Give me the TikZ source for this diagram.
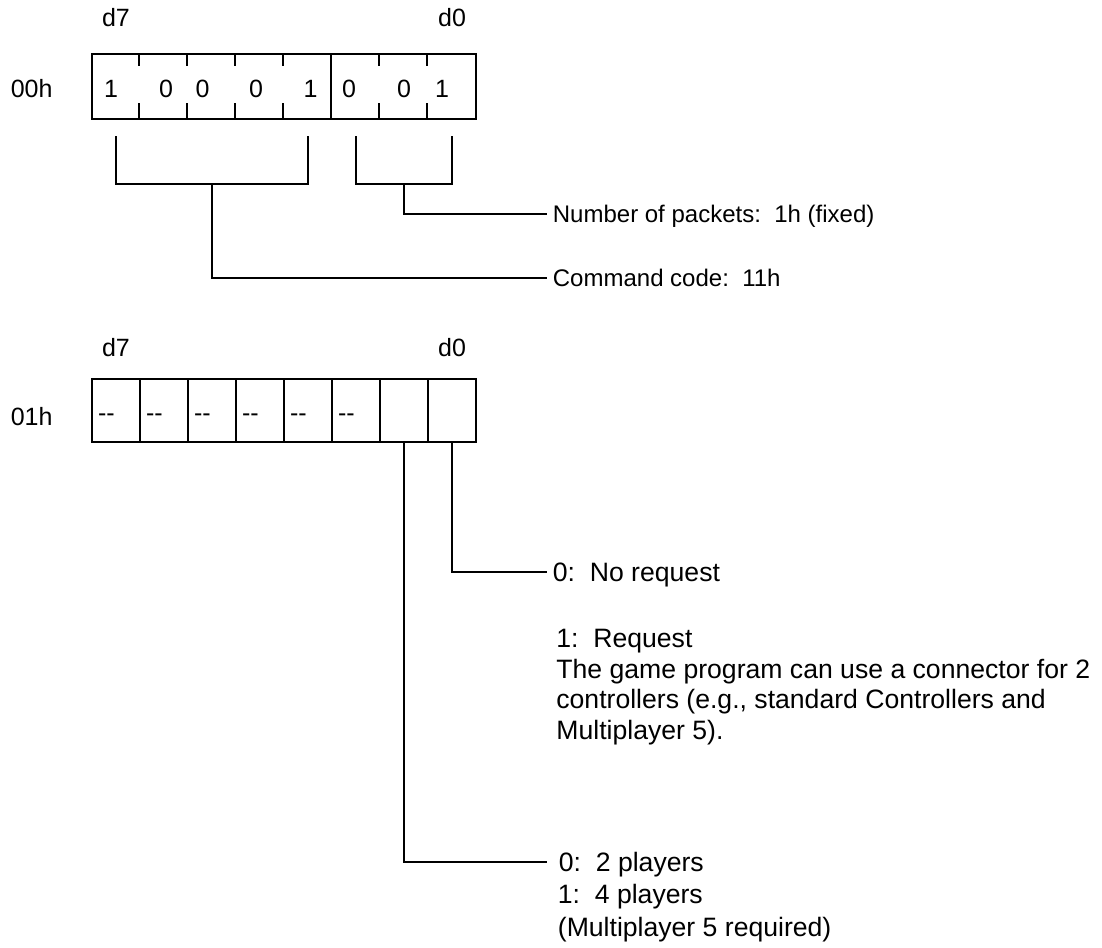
\documentclass[tikz,border=0pt]{standalone}
\usepackage{fontspec}
\setmainfont{Liberation Sans}
\usetikzlibrary{positioning}

\begin{document}
\begin{tikzpicture}[
  x=0.5pt, y=-0.5pt,
  wire/.style={line width=1pt},
  reg/.style={draw, line width=1pt, minimum width=192.15pt,
              minimum height=32.35pt, inner sep=0pt},
  cell/.style={draw, line width=1pt, minimum width=24pt,
               minimum height=31.2pt, inner sep=0pt},
  bit/.style={font=\fontsize{12.5pt}{15pt}\selectfont, inner sep=0pt,
              text height=8.95pt, text depth=0pt},
  lbl/.style={font=\fontsize{12pt}{15pt}\selectfont, inner ysep=0pt,
              text height=8.6pt, text depth=0pt, anchor=west, inner xsep=3pt},
  desc/.style={font=\fontsize{13.3pt}{15.35pt}\selectfont, inner ysep=0pt,
               text height=9.5pt, text depth=0pt, anchor=west, inner xsep=3pt},
  note/.style={font=\fontsize{13.3pt}{15.35pt}\selectfont, align=left,
               inner sep=0pt, anchor=base west},
]
\useasboundingbox (0,0) rectangle (1102,947);

%% ---- Register 00h ----
\node[bit] (d7a) at (116,18) {d7};
\node[bit] (d0a) at (452,18) {d0};
\node[bit] (a00) at (31.7,88.3) {00h};

\node[reg] (r0) at (283.85,86.65) {};
\foreach \k in {1,2,3,4,6,7} {
  \draw[wire] ([xshift=\k*24pt]r0.north west) -- ++(0,13);
  \draw[wire] ([xshift=\k*24pt]r0.south west) -- ++(0,-17.3);
}
\draw[wire] ([xshift=120pt]r0.north west) -- ([xshift=120pt]r0.south west);

\foreach \n/\v/\x in {7/1/111, 6/0/166, 5/0/202.5, 4/0/256,
                      3/1/310.5, 2/0/349, 1/0/404, 0/1/442}
  \node[bit] (b\n) at (\x,88.3) {\v};

%% ---- brackets: command code / packets ----
\coordinate (k7) at (115.7,136);
\coordinate (k3) at (307.7,136);
\coordinate (k2) at (355.7,136);
\coordinate (k0) at (451.7,136);
\coordinate (s73) at (211.7,184);
\coordinate (s20) at (403.7,184);

\node[lbl] (npk) at (546.5,214) {Number of packets:\ \ 1h (fixed)};
\node[lbl] (cmd) at (546.5,278) {Command code:\ \ 11h};

\draw[wire] (k7) -- ++(0,48) -| (k3);
\draw[wire] (k2) -- ++(0,48) -| (k0);
\draw[wire] (s20) |- (npk.west);
\draw[wire] (s73) |- (cmd.west);

%% ---- Register 01h ----
\node[bit] (d7b) at (116,348) {d7};
\node[bit] (d0b) at (452,348) {d0};
\node[bit] (a01) at (31.7,416.7) {01h};

\foreach \n in {0,...,7}
  \node[cell] (c\n) at ({115.7+48*(7-\n)},410.5) {};
\foreach \n in {2,...,7}
  \node[bit, anchor=west] (h\n) at ([xshift=3.5pt,yshift=-1pt]c\n.west) {-{}-};

%% ---- bit descriptions ----
\node[desc] (nreq) at (546.5,572) {0:\ \ No request};
\node[note] (req) at (556,739.5) {1:\ \ Request\\The game program can use a connector for 2\\controllers (e.g., standard Controllers and\\Multiplayer 5).};

\node[desc, inner xsep=6pt] (pl0) at (546.5,862) {0:\ \ 2 players};
\node[note, font=\fontsize{13.3pt}{16.5pt}\selectfont] (pl1) at (557.5,936.5)
  {1:\ \ 4 players\\(Multiplayer 5 required)};

\draw[wire] (c0.south) |- (nreq.west);
\draw[wire] (c1.south) |- (pl0.west);

\end{tikzpicture}
\end{document}
